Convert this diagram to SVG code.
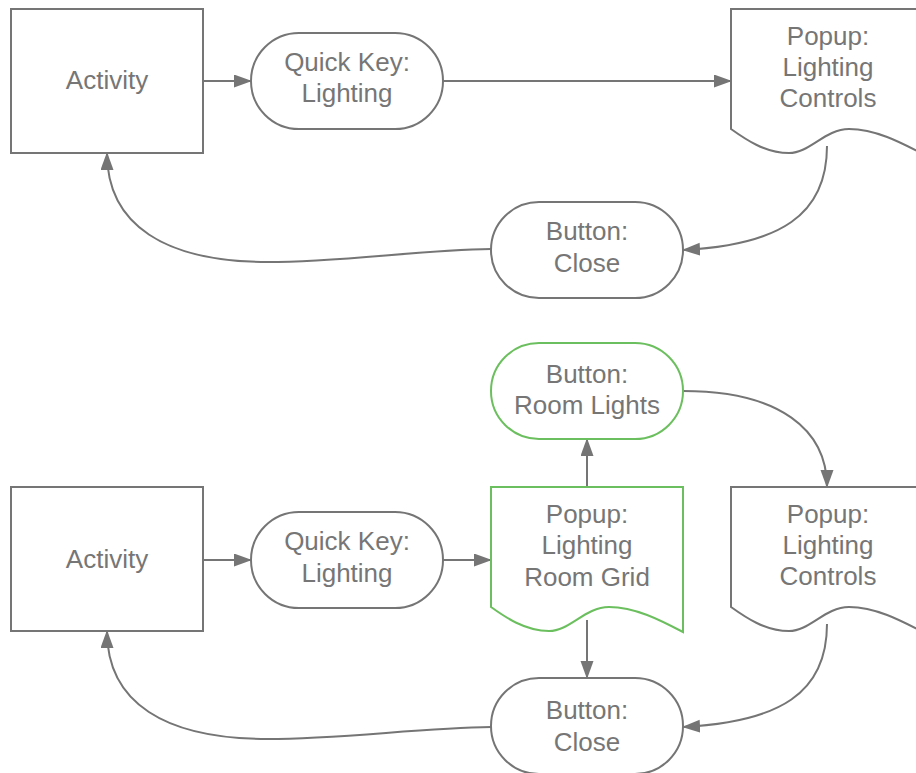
<svg xmlns="http://www.w3.org/2000/svg" width="916" height="773" viewBox="0 0 916 773">
<defs>
<style>
.n{fill:#fff;stroke:#757575;stroke-width:2}
.g{fill:#fff;stroke:#6cbf5e;stroke-width:2}
.c{fill:none;stroke:#757575;stroke-width:2}
text{font-family:"Liberation Sans",Arial,sans-serif;font-size:26px;fill:#767676;text-anchor:middle}
</style>
<marker id="ah" markerUnits="userSpaceOnUse" markerWidth="20" markerHeight="16" refX="17" refY="6.5" orient="auto" viewBox="0 0 20 16">
<path d="M0,0 L18,6.5 L0,13 z" fill="#757575"/>
</marker>
</defs>
<rect width="916" height="773" fill="#fff"/>
<g id="connectors">
<path class="c" d="M203,81 L251,81" marker-end="url(#ah)"/>
<path class="c" d="M443,81 L731,81" marker-end="url(#ah)"/>
<path class="c" d="M827,146 C827,215 780,245 683,250" marker-end="url(#ah)"/>
<path class="c" d="M491,249 C420,250 340,262 268,262 C165,262 107,225 107,153" marker-end="url(#ah)"/>
<path class="c" d="M203,560 L251,560" marker-end="url(#ah)"/>
<path class="c" d="M443,560 L491,560" marker-end="url(#ah)"/>
<path class="c" d="M587,487 L587,439" marker-end="url(#ah)"/>
<path class="c" d="M683,391 C780,391 827,430 827,487" marker-end="url(#ah)"/>
<path class="c" d="M587,620 L587,678" marker-end="url(#ah)"/>
<path class="c" d="M827,624 C827,693 780,722 683,727" marker-end="url(#ah)"/>
<path class="c" d="M491,727 C420,728 340,739 268,739 C165,739 107,703 107,631" marker-end="url(#ah)"/>
</g>
<g id="activity1">
<rect class="n" x="11" y="9" width="192" height="144"/>
<text x="107" y="89">Activity</text>
</g>
<g id="quickkey1">
<rect class="n" x="251" y="33" width="192" height="96" rx="48" ry="48"/>
<text x="347" y="71">Quick Key:</text>
<text x="347" y="102">Lighting</text>
</g>
<g id="popup1">
<path class="n" d="M731,9 L923,9 L923,154 C900,142 875,129 849,129 C825,129 810,153 789,153 C765,153 745,139 731,129 Z"/>
<text x="828" y="45">Popup:</text>
<text x="828" y="76">Lighting</text>
<text x="828" y="107">Controls</text>
</g>
<g id="close1">
<rect class="n" x="491" y="202" width="192" height="96" rx="48" ry="48"/>
<text x="587" y="240">Button:</text>
<text x="587" y="272">Close</text>
</g>
<g id="activity2">
<rect class="n" x="11" y="487" width="192" height="144"/>
<text x="107" y="568">Activity</text>
</g>
<g id="quickkey2">
<rect class="n" x="251" y="512" width="192" height="96" rx="48" ry="48"/>
<text x="347" y="550">Quick Key:</text>
<text x="347" y="582">Lighting</text>
</g>
<g id="roomgrid">
<path class="g" d="M491,487 L683,487 L683,632 C660,620 635,607 609,607 C585,607 570,631 549,631 C525,631 505,617 491,607 Z"/>
<text x="587" y="523">Popup:</text>
<text x="587" y="554">Lighting</text>
<text x="587" y="586">Room Grid</text>
</g>
<g id="roomlights">
<rect class="g" x="491" y="343" width="192" height="96" rx="48" ry="48"/>
<text x="587" y="383">Button:</text>
<text x="587" y="414">Room Lights</text>
</g>
<g id="popup2">
<path class="n" d="M731,487 L923,487 L923,632 C900,620 875,607 849,607 C825,607 810,631 789,631 C765,631 745,617 731,607 Z"/>
<text x="828" y="523">Popup:</text>
<text x="828" y="554">Lighting</text>
<text x="828" y="585">Controls</text>
</g>
<g id="close2">
<rect class="n" x="491" y="678" width="192" height="96" rx="48" ry="48"/>
<text x="587" y="719">Button:</text>
<text x="587" y="751">Close</text>
</g>
</svg>
